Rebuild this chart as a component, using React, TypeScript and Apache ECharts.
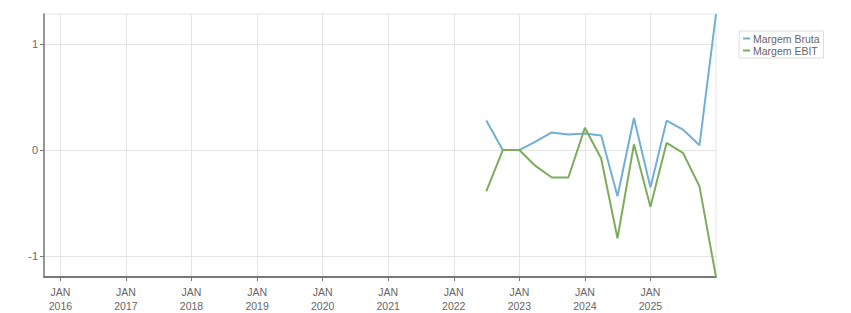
import React, { useEffect, useRef } from "react";
import * as echarts from "echarts";

const dates = [
  "2022-06-30", "2022-09-30", "2022-12-31", "2023-03-31", "2023-06-30",
  "2023-09-30", "2023-12-31", "2024-03-31", "2024-06-30", "2024-09-30",
  "2024-12-31", "2025-03-31", "2025-06-30", "2025-09-30", "2025-12-31",
];
const margemBruta = [0.28, 0.0, 0.0, 0.08, 0.166, 0.147, 0.157, 0.138, -0.436, 0.303, -0.353, 0.278, 0.194, 0.045, 1.286];
const margemEbit = [-0.39, 0.0, 0.0, -0.15, -0.26, -0.26, 0.21, -0.08, -0.834, 0.054, -0.536, 0.067, -0.026, -0.343, -1.2];
const yearTicks = [2016, 2017, 2018, 2019, 2020, 2021, 2022, 2023, 2024, 2025];
const yTicks = [-1, 0, 1];
const seriesNames = ["Margem Bruta", "Margem EBIT"];

function toYear(d: string): number {
  const [y, m, dd] = d.split("-").map(Number);
  const start = Date.UTC(y, 0, 1);
  const end = Date.UTC(y + 1, 0, 1);
  const t = Date.UTC(y, m - 1, dd) + 86400000;
  return y + (t - start) / (end - start);
}

export default function App() {
  const ref = useRef<HTMLDivElement>(null);
  useEffect(() => {
    document.body.style.margin = "0";
    const chart = echarts.init(ref.current!, null, { renderer: "svg" });
    const xs = dates.map(toYear);
    const font = "'Liberation Sans', Arial, sans-serif";
    chart.setOption({
      animation: false,
      grid: {
        left: 44, top: 14, right: 135, bottom: 33,
        show: true, borderColor: "#e4e4e4", borderWidth: 1,
      },
      legend: {
        orient: "vertical",
        left: 739, top: 31,
        data: seriesNames,
        borderColor: "#dcdcdc", borderWidth: 1,
        padding: [2, 4, 2, 4],
        itemGap: 1,
        itemWidth: 7, itemHeight: 2,
        icon: "rect",
        textStyle: { color: "#666", fontSize: 10.5, fontFamily: font, padding: [0, 0, 0, -2] },
      },
      xAxis: {
        type: "value",
        min: 2015.75, max: 2026.0,
        axisLine: { show: true, onZero: false, lineStyle: { color: "#777", width: 2 } },
        axisTick: { show: true, length: 4, customValues: yearTicks, lineStyle: { color: "#777" } },
        axisLabel: {
          customValues: yearTicks,
          formatter: (v: number) => "JAN\n" + Math.round(v),
          color: "#666", fontSize: 10.5, fontFamily: font, lineHeight: 14, margin: 8,
        },
        splitLine: { show: true, lineStyle: { color: "#e4e4e4", width: 1 } },
      },
      yAxis: {
        type: "value",
        min: -1.2, max: 1.286,
        axisLine: { show: true, onZero: false, lineStyle: { color: "#777", width: 1.5 } },
        axisTick: { show: true, length: 4, customValues: yTicks, lineStyle: { color: "#777" } },
        axisLabel: {
          customValues: yTicks,
          color: "#666", fontSize: 11, fontFamily: font, margin: 6,
        },
        splitLine: { show: true, lineStyle: { color: "#e4e4e4", width: 1 } },
      },
      series: [
        {
          name: seriesNames[0], type: "line", showSymbol: false,
          color: "#70afd6", lineStyle: { width: 2 },
          data: xs.map((x, i) => [x, margemBruta[i]]),
        },
        {
          name: seriesNames[1], type: "line", showSymbol: false,
          color: "#7dac5e", lineStyle: { width: 2 },
          data: xs.map((x, i) => [x, margemEbit[i]]),
        },
      ],
    });
    return () => chart.dispose();
  }, []);
  return <div ref={ref} style={{ width: 851, height: 313 }} />;
}
